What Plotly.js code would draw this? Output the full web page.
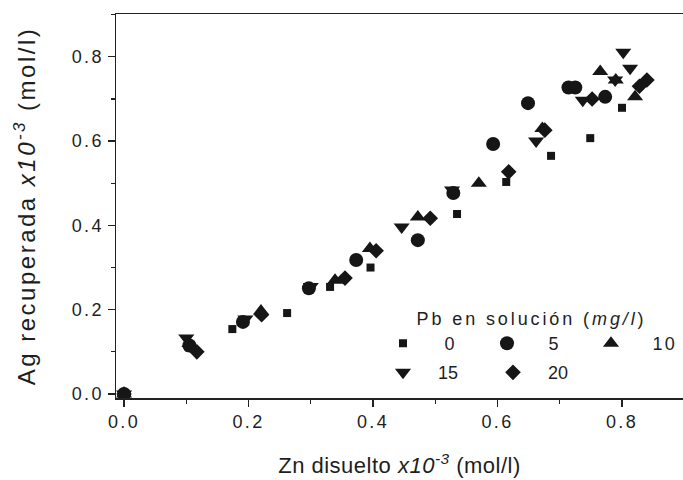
<!DOCTYPE html>
<html>
<head>
<meta charset="utf-8">
<script src="https://cdn.plot.ly/plotly-3.0.1.min.js"></script>
<style>
html,body{margin:0;padding:0;background:#fff;}
#chart{width:683px;height:480px;}
.xtick text, .ytick text { letter-spacing: 2.4px; }
.legendtext { letter-spacing: 2.2px; }
.legendtitletext { letter-spacing: 2.9px; }
.xtitle { letter-spacing: 0.5px; }
.ytitle { letter-spacing: 2.5px; }
</style>
</head>
<body>
<div id="chart"></div>
<script>
// Pb en solución (mg/l) series: Zn disuelto (x) vs Ag recuperada (y), x10^-3 mol/l
const pb0_x = [0, 0.105, 0.174, 0.262, 0.331, 0.396, 0.535, 0.614, 0.686, 0.749, 0.800];
const pb0_y = [0, 0.110, 0.154, 0.192, 0.254, 0.300, 0.427, 0.503, 0.565, 0.607, 0.679];

const pb5_x = [0, 0.105, 0.191, 0.297, 0.373, 0.472, 0.529, 0.593, 0.649, 0.714, 0.725, 0.773];
const pb5_y = [0, 0.115, 0.171, 0.251, 0.318, 0.365, 0.477, 0.593, 0.690, 0.727, 0.727, 0.705];

const pb10_x = [0, 0.105, 0.220, 0.339, 0.395, 0.472, 0.570, 0.672, 0.765, 0.790, 0.821];
const pb10_y = [0, 0.120, 0.197, 0.270, 0.345, 0.420, 0.500, 0.630, 0.765, 0.745, 0.705];

const pb15_x = [0, 0.100, 0.195, 0.300, 0.446, 0.527, 0.662, 0.737, 0.789, 0.813, 0.802];
const pb15_y = [0, 0.133, 0.178, 0.255, 0.396, 0.484, 0.600, 0.697, 0.745, 0.773, 0.811];

const pb20_x = [0, 0.117, 0.221, 0.355, 0.405, 0.492, 0.618, 0.676, 0.752, 0.828, 0.840];
const pb20_y = [0, 0.100, 0.188, 0.275, 0.340, 0.417, 0.527, 0.626, 0.700, 0.730, 0.745];

const names = ['0', '5', '10', '15', '20'];
const xTicks = [0, 0.2, 0.4, 0.6, 0.8];
const xTickText = ['0.0', '0.2', '0.4', '0.6', '0.8'];
const yTicks = [0, 0.2, 0.4, 0.6, 0.8];
const yTickText = ['0.0', '0.2', '0.4', '0.6', '0.8'];

const ink = '#161616';
const pad = '\u00a0\u00a0\u00a0';

function tr(x, y, name, symbol, size, legend, lw) {
  const t = {
    type: 'scatter', mode: 'markers', x: x, y: y, name: pad + name,
    legend: legend,
    marker: {symbol: symbol, size: size, color: ink, line: {width: 0}}
  };
  if (lw) t.legendwidth = lw;
  return t;
}

const data = [
  tr(pb0_x, pb0_y, names[0], 'square', 8, 'legend'),
  tr(pb5_x, pb5_y, names[1], 'circle', 14, 'legend'),
  tr(pb10_x, pb10_y, names[2], 'triangle-up', 14, 'legend', 44),
  tr(pb15_x, pb15_y, names[3], 'triangle-down', 14, 'legend2'),
  tr(pb20_x, pb20_y, names[4], 'diamond', 12, 'legend2', 50)
];

const fam = '"Liberation Sans", Arial, sans-serif';
const txt = '#1e1e1e';

const axisCommon = {
  showgrid: false, zeroline: false, showline: true, mirror: true,
  linecolor: '#222', linewidth: 1.5,
  ticks: 'outside', ticklen: 7, tickwidth: 1.2, tickcolor: '#222',
  tickmode: 'array',
  minor: {ticks: 'outside', ticklen: 4, tickwidth: 1.2, tickcolor: '#222', dtick: 0.1, tick0: 0, showgrid: false},
  tickfont: {family: fam, size: 18, color: txt}
};

const layout = {
  width: 683, height: 480,
  margin: {l: 116, r: 0, t: 14, b: 82},
  paper_bgcolor: '#fff', plot_bgcolor: '#fff',
  font: {family: fam, color: txt},
  showlegend: true,
  xaxis: Object.assign({}, axisCommon, {
    range: [-0.0129, 0.898],
    tickvals: xTicks, ticktext: xTickText,
    title: {text: 'Zn disuelto <i>x10<sup>-3</sup></i> (mol/l)', font: {family: fam, size: 22, color: txt}, standoff: 26}
  }),
  yaxis: Object.assign({}, axisCommon, {
    range: [-0.0095, 0.9015],
    tickvals: yTicks, ticktext: yTickText,
    title: {text: 'Ag recuperada <i>x10<sup>-3</sup></i> (mol/l)', font: {family: fam, size: 24, color: txt}, standoff: 29}
  }),
  legend: {
    orientation: 'h', x: 0.4709, xanchor: 'left', y: 0.251, yanchor: 'top',
    entrywidth: 59, bgcolor: 'rgba(0,0,0,0)', borderwidth: 0,
    font: {family: fam, size: 18, color: txt},
    title: {text: 'Pb en solución (<i>mg/l</i>)', side: 'top center', font: {family: fam, size: 18, color: txt}},
    itemclick: false
  },
  legend2: {
    orientation: 'h', x: 0.4709, xanchor: 'left', y: 0.066, yanchor: 'middle',
    entrywidth: 65, bgcolor: 'rgba(0,0,0,0)', borderwidth: 0,
    font: {family: fam, size: 18, color: txt}
  }
};

Plotly.newPlot('chart', data, layout, {displayModeBar: false, staticPlot: true});
</script>
</body>
</html>
